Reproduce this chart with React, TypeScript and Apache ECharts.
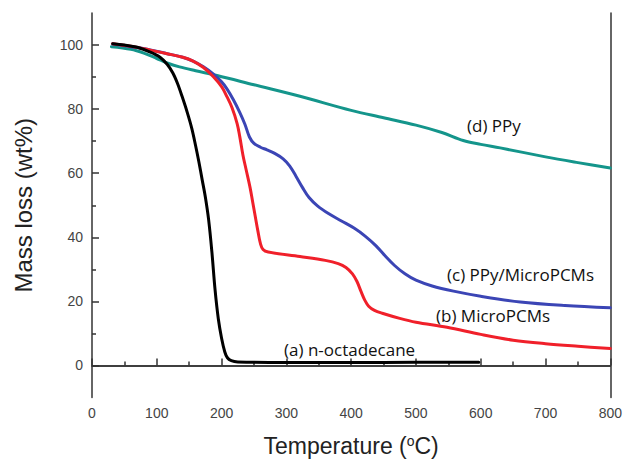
import React, { useEffect, useRef } from "react";
import * as echarts from "echarts";

const octadecane: [number, number][] = [
  [32, 100.4], [50, 100], [70, 99.3], [90, 97.8], [105, 96.2], [116, 94], [125, 91.2], [132, 88],
  [139, 84], [147, 79], [154, 74], [160, 68.5], [165, 63.5], [170, 58], [175, 52.5], [180, 45.5],
  [185, 35.5], [190, 23.5], [195, 14.5], [200, 8.5], [205, 4.2], [209, 2.4], [215, 1.5], [225, 1.1],
  [300, 0.9], [400, 0.9], [500, 1], [597, 1],
];
const microPCMs: [number, number][] = [
  [32, 100.4], [60, 99.6], [90, 98.4], [116, 97.3], [140, 96.2], [156, 95], [172, 93], [187, 90.2],
  [200, 87], [208, 84], [216, 80.5], [224, 75.5], [228, 71.5], [233, 65.6], [238, 61], [244, 55.5],
  [248, 51], [252, 46.5], [256, 42], [260, 38], [264, 36.2], [272, 35.4], [321, 34], [360, 32.8],
  [380, 31.8], [392, 30.6], [402, 28.6], [409, 26.2], [415, 23.2], [421, 20.4], [427, 18.5],
  [436, 17.2], [448, 16.3], [475, 14.7], [500, 13.5], [548, 11.9], [600, 9.7], [650, 7.9], [700, 6.8],
  [750, 6], [800, 5.3],
];
const ppyMicroPCMs: [number, number][] = [
  [32, 100.3], [60, 99.5], [90, 98.5], [116, 97.3], [140, 96.2], [156, 95], [172, 93.2], [187, 91],
  [200, 88.5], [208, 86.4], [218, 83], [228, 79], [236, 75.3], [243, 71.3], [250, 69.3], [260, 68.1],
  [270, 67.3], [282, 66.2], [295, 64.5], [305, 62.3], [315, 59], [325, 55.5], [335, 52.4], [348, 49.8],
  [365, 47.4], [385, 45.1], [405, 42.8], [422, 40.3], [438, 37.4], [452, 34.3], [467, 31.2],
  [483, 28.6], [500, 26.6], [525, 24.8], [558, 23.2], [600, 21.6], [661, 19.8], [730, 18.7], [800, 18],
];
const ppy: [number, number][] = [
  [30, 99.5], [60, 98.7], [80, 97.5], [100, 95.8], [116, 94.4], [135, 93.2], [160, 92], [193, 90.5],
  [250, 87.6], [321, 84], [400, 79.6], [450, 77.3], [500, 75], [540, 72.7], [573, 70.2], [600, 69],
  [630, 67.9], [700, 65.1], [750, 63.3], [800, 61.6],
];

const xTicks = [0, 100, 200, 300, 400, 500, 600, 700, 800];
const yMajor = [0, 20, 40, 60, 80, 100];
const yMinor = [10, 30, 50, 70, 90];

const labels = [
  { text: "(d) PPy", x: 467, y: 128 },
  { text: "(c) PPy/MicroPCMs", x: 447, y: 277 },
  { text: "(b) MicroPCMs", x: 436, y: 318 },
  { text: "(a) n-octadecane", x: 284, y: 352 },
];

const AXIS = "#333333";
const LABEL = "#444444";
const FONT = "Liberation Sans, Arial, sans-serif";

export default function App() {
  const ref = useRef<HTMLDivElement>(null);
  useEffect(() => {
    if (!ref.current) return;
    const chart = echarts.init(ref.current, null, { renderer: "svg" });
    const lineSeries = (name: string, data: [number, number][], color: string) => ({
      type: "line",
      name,
      data,
      showSymbol: false,
      symbol: "none",
      smooth: 0.35,
      lineStyle: { color, width: 3, join: "round", cap: "round" },
      xAxisIndex: 0,
      yAxisIndex: 0,
      z: 3,
    });
    chart.setOption({
      animation: false,
      backgroundColor: "#ffffff",
      grid: { left: 92, top: 13, right: 14, bottom: 62, containLabel: false },
      xAxis: [
        {
          type: "value",
          min: 0,
          max: 800,
          interval: 100,
          position: "bottom",
          name: "Temperature ({sup|o}C)",
          nameLocation: "middle",
          nameGap: 36,
          nameTextStyle: {
            fontFamily: FONT,
            fontSize: 23,
            color: "#222",
            rich: {
              sup: { fontSize: 14, padding: [0, 0, 10, 0], color: "#222", fontFamily: FONT },
            },
          },
          axisLine: { show: true, lineStyle: { color: AXIS, width: 1.5 } },
          axisTick: { show: true, inside: true, length: 7, lineStyle: { color: AXIS, width: 1.5 } },
          minorTick: { show: true, splitNumber: 2, length: 4, lineStyle: { color: AXIS, width: 1.5 } },
          axisLabel: {
            color: LABEL,
            fontSize: 14,
            margin: 8,
            fontFamily: FONT,
            customValues: xTicks,
          },
          splitLine: { show: false },
        },
        {
          type: "value",
          min: 0,
          max: 800,
          position: "top",
          axisLine: { show: true, lineStyle: { color: AXIS, width: 1.5 } },
          axisTick: { show: false },
          axisLabel: { show: false },
          splitLine: { show: false },
        },
      ],
      yAxis: [
        {
          type: "value",
          min: -10,
          max: 110,
          position: "left",
          name: "Mass loss (wt%)",
          nameLocation: "middle",
          nameGap: 57,
          nameTextStyle: { fontFamily: FONT, fontSize: 24, color: "#222" },
          axisLine: { show: true, lineStyle: { color: AXIS, width: 1.5 } },
          axisTick: { show: true, inside: true, length: 7, customValues: yMajor, lineStyle: { color: AXIS, width: 1.5 } },
          axisLabel: {
            color: LABEL,
            fontSize: 14,
            margin: 9,
            fontFamily: FONT,
            customValues: yMajor,
          },
          splitLine: { show: false },
        },
        {
          type: "value",
          min: -10,
          max: 110,
          position: "left",
          axisLine: { show: false },
          axisTick: { show: true, inside: true, length: 4, customValues: yMinor, lineStyle: { color: AXIS, width: 1.5 } },
          axisLabel: { show: false },
          splitLine: { show: false },
        },
        {
          type: "value",
          min: -10,
          max: 110,
          position: "right",
          axisLine: { show: true, lineStyle: { color: AXIS, width: 1.5 } },
          axisTick: { show: false },
          axisLabel: { show: false },
          splitLine: { show: false },
        },
      ],
      series: [
        lineSeries("(d) PPy", ppy, "#14958b"),
        lineSeries("(c) PPy/MicroPCMs", ppyMicroPCMs, "#3b45b5"),
        lineSeries("(b) MicroPCMs", microPCMs, "#f0202a"),
        lineSeries("(a) n-octadecane", octadecane, "#000000"),
      ],
      graphic: labels.map((l) => ({
        type: "text",
        left: l.x,
        top: l.y - 11,
        style: {
          text: l.text,
          fontFamily: "Open Sans, Noto Sans, sans-serif",
          fontSize: 17,
          fill: "#111",
        },
        z: 10,
      })),
    });
    return () => chart.dispose();
  }, []);
  return (
    <div
      ref={ref}
      style={{ position: "absolute", left: 0, top: 0, width: 625, height: 462 }}
    />
  );
}
